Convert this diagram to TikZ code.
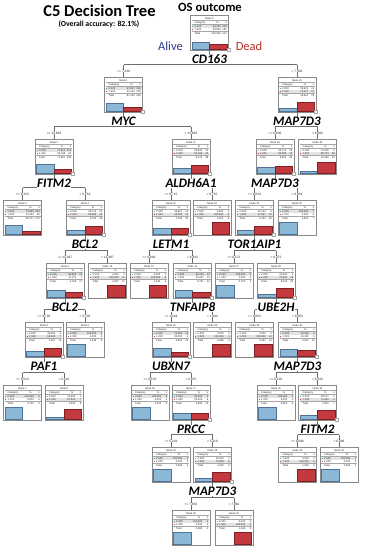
\documentclass[tikz,border=0pt]{standalone}
\usepackage{fontspec}
\setmainfont{Liberation Sans}
\newfontfamily\carl{Carlito}
\usetikzlibrary{calc}
\definecolor{alivec}{HTML}{2E3A8C}
\definecolor{deadc}{HTML}{B5322F}
\definecolor{bluebar}{HTML}{8CB8D8}
\definecolor{blueedge}{HTML}{4F7396}
\definecolor{redbar}{HTML}{C4393D}
\definecolor{rededge}{HTML}{7E2023}
\definecolor{framec}{HTML}{8A8A8A}
\definecolor{connc}{HTML}{6E6E6E}
\tikzset{
  boxst/.style={draw=framec,line width=0.9pt,fill=white,minimum width=38pt,minimum height=35pt,inner sep=0pt},
  tiny/.style={font=\fontsize{2.6}{3}\selectfont,inner sep=0pt,text=black!85},
  rule/.style={draw=gray!70,line width=0.25pt},
  conn/.style={draw=connc,line width=0.7pt},
  gene/.style={font=\carl\bfseries\itshape\fontsize{13}{14}\selectfont,fill=white,inner sep=0.2pt},
  thr/.style={font=\fontsize{3.2}{3.6}\selectfont,fill=white,inner sep=0.3pt,text=black!85},
  iconst/.style={draw=gray!70,line width=0.4pt,fill=white}
}
% #1 name #2 cx #3 top #4 number #5 n0 #6 n1 #7 p0 #8 p1 #9 total pct
\newcommand{\tbox}[9]{%
  \node[boxst] (#1) at (#2,#3+17.5) {};
  \pgfmathsetmacro{\hA}{#7*0.115}%
  \pgfmathsetmacro{\hB}{#8*0.115}%
  \pgfmathsetmacro{\xL}{#2-19}%
  \ifnum#5<#6\relax\def\shy{14.4}\else\def\shy{11.2}\fi
  \fill[gray!22] (\xL+1,#3+\shy-1.5) rectangle (\xL+37,#3+\shy+1.5);
  \node[tiny] at (#2,#3+3.3) {Node #4};
  \draw[rule] (\xL+1,#3+5.4) -- (\xL+37,#3+5.4);
  \node[tiny,anchor=west] at (\xL+4,#3+7.6) {Category};
  \node[tiny] at (\xL+27,#3+7.6) {\%};
  \node[tiny,anchor=east] at (\xL+36.5,#3+7.6) {n};
  \draw[rule] (\xL+1,#3+9.4) -- (\xL+37,#3+9.4);
  \fill[bluebar!80!blue] (\xL+1.6,#3+10.6) rectangle (\xL+2.8,#3+11.8);
  \node[tiny,anchor=west] at (\xL+4,#3+11.2) {0.000};
  \node[tiny,anchor=east] at (\xL+30.5,#3+11.2) {#7};
  \node[tiny,anchor=east] at (\xL+36.5,#3+11.2) {#5};
  \fill[redbar] (\xL+1.6,#3+13.8) rectangle (\xL+2.8,#3+15);
  \node[tiny,anchor=west] at (\xL+4,#3+14.4) {1.000};
  \node[tiny,anchor=east] at (\xL+30.5,#3+14.4) {#8};
  \node[tiny,anchor=east] at (\xL+36.5,#3+14.4) {#6};
  \draw[rule] (\xL+1,#3+16.4) -- (\xL+37,#3+16.4);
  \node[tiny,anchor=west] at (\xL+4,#3+18.4) {Total};
  \node[tiny,anchor=east] at (\xL+30.5,#3+18.4) {#9};
  \node[tiny,anchor=east] at (\xL+36.5,#3+18.4) {\the\numexpr#5+#6\relax};
  \ifnum#5>0\relax
    \filldraw[fill=bluebar,draw=blueedge,line width=0.3pt] (\xL+1.6,#3+33.8-\hA) rectangle (\xL+19,#3+33.8);
  \fi
  \ifnum#6>0\relax
    \filldraw[fill=redbar,draw=rededge,line width=0.3pt] (\xL+19,#3+33.8-\hB) rectangle (\xL+36.4,#3+33.8);
  \fi
}
% #1 parent #2 left #3 right #4 gene #5 threshold
\newcommand{\tsplit}[5]{%
  \path (#2.north) ++(0,-12) coordinate (#2h);
  \path (#3.north) ++(0,-12) coordinate (#3h);
  \draw[conn] (#1.south) -- (#1.south |- #2h);
  \draw[conn] (#2h) -- (#3h);
  \draw[conn] (#2h) -- (#2.north);
  \draw[conn] (#3h) -- (#3.north);
  \node[gene] (#1g) at ($(#1.south)+(0,8.8)$) {#4};
  \node[thr] (#2t) at ($(#2.north)+(0,-5.6)$) {<= #5};
  \node[thr] (#3t) at ($(#3.north)+(0,-5.6)$) {> #5};
  \draw[iconst] ($(#1.south east)+(-1.8,-1.8)$) rectangle ++(3,3);
}
\begin{document}
\begin{tikzpicture}[x=1pt,y=-1pt]
\fill[white] (0,0) rectangle (365,550);
\useasboundingbox (0,0) rectangle (365,550);

\node[font=\carl\bfseries\fontsize{16.5}{18}\selectfont,inner sep=0pt] (title) at (99.5,10.5) {C5 Decision Tree};
\node[font=\carl\bfseries\fontsize{7.7}{9}\selectfont,inner sep=0pt] (acc) at (99,24.5) {(Overall accuracy: 82.1\%)};
\node[font=\carl\bfseries\fontsize{12.6}{14}\selectfont,inner sep=0pt] (os) at (210,7.5) {OS outcome};
\node[font=\carl\fontsize{12.5}{14}\selectfont,text=alivec,inner sep=0pt] (alive) at (170.5,46) {Alive};
\node[font=\carl\fontsize{12.5}{14}\selectfont,text=deadc,inner sep=0pt] (dead) at (249,46) {Dead};

\tbox{n0}{209.5}{15}{0}{249}{165}{60.145}{39.855}{100.000}
\tbox{n1}{123.5}{77}{1}{228}{108}{67.857}{32.143}{81.159}
\tbox{n24}{297}{77}{24}{21}{57}{26.923}{73.077}{18.841}
\tbox{n2}{54}{139}{2}{214}{84}{71.812}{28.188}{71.981}
\tbox{n11}{191}{139}{11}{14}{24}{36.842}{63.158}{9.179}
\tbox{n25}{275}{139}{25}{16}{19}{45.714}{54.286}{8.454}
\tbox{n36}{317.5}{139}{36}{5}{38}{11.628}{88.372}{10.386}
\tbox{n3}{22.5}{200}{3}{204}{66}{75.556}{24.444}{65.217}
\tbox{n4}{85}{200}{4}{10}{18}{35.714}{64.286}{6.763}
\tbox{n12}{171}{200}{12}{14}{16}{46.667}{53.333}{7.246}
\tbox{n23}{212}{200}{23}{0}{8}{0.000}{100.000}{1.932}
\tbox{n26}{254.5}{200}{26}{9}{19}{32.143}{67.857}{6.763}
\tbox{n35}{297}{200}{35}{7}{0}{100.000}{0.000}{1.691}
\tbox{n5}{65}{263}{5}{10}{7}{58.824}{41.176}{4.106}
\tbox{n10}{107.5}{263}{10}{0}{11}{0.000}{100.000}{2.657}
\tbox{n13}{149}{263}{13}{0}{6}{0.000}{100.000}{1.449}
\tbox{n14}{192.5}{263}{14}{14}{10}{58.333}{41.667}{5.797}
\tbox{n27}{234}{263}{27}{3}{0}{100.000}{0.000}{0.725}
\tbox{n28}{276}{263}{28}{6}{19}{24.000}{76.000}{6.039}
\tbox{n6}{44}{322}{6}{4}{7}{36.364}{63.636}{2.657}
\tbox{n9}{85}{322}{9}{6}{0}{100.000}{0.000}{1.449}
\tbox{n15}{171}{322}{15}{14}{6}{70.000}{30.000}{4.831}
\tbox{n22}{212.5}{322}{22}{0}{4}{0.000}{100.000}{0.966}
\tbox{n29}{254.5}{322}{29}{0}{14}{0.000}{100.000}{3.382}
\tbox{n30}{297.5}{322}{30}{6}{5}{54.545}{45.455}{2.657}
\tbox{n7}{22.5}{385}{7}{3}{0}{100.000}{0.000}{0.725}
\tbox{n8}{64}{385}{8}{1}{7}{12.500}{87.500}{1.932}
\tbox{n16}{150}{385}{16}{8}{0}{100.000}{0.000}{1.932}
\tbox{n17}{191}{385}{17}{6}{6}{50.000}{50.000}{2.899}
\tbox{n31}{276}{385}{31}{4}{0}{100.000}{0.000}{0.966}
\tbox{n32}{317.5}{385}{32}{2}{5}{28.571}{71.429}{1.691}
\tbox{n18}{171}{447}{18}{4}{0}{100.000}{0.000}{0.966}
\tbox{n19}{212.5}{447}{19}{2}{6}{25.000}{75.000}{1.932}
\tbox{n33}{297.5}{447}{33}{0}{5}{0.000}{100.000}{1.208}
\tbox{n34}{339}{447}{34}{2}{0}{100.000}{0.000}{0.483}
\tbox{n20}{191}{510}{20}{2}{0}{100.000}{0.000}{0.483}
\tbox{n21}{234}{510}{21}{0}{6}{0.000}{100.000}{1.449}

\tsplit{n0}{n1}{n24}{CD163}{7.436}
\tsplit{n1}{n2}{n11}{MYC}{12.829}
\tsplit{n24}{n25}{n36}{MAP7D3}{6.006}
\tsplit{n2}{n3}{n4}{FITM2}{6.153}
\tsplit{n11}{n12}{n23}{ALDH6A1}{8.715}
\tsplit{n25}{n26}{n35}{MAP7D3}{6.033}
\tsplit{n4}{n5}{n10}{BCL2}{11.487}
\tsplit{n12}{n13}{n14}{LETM1}{6.843}
\tsplit{n26}{n27}{n28}{TOR1AIP1}{8.372}
\tsplit{n5}{n6}{n9}{BCL2}{9.728}
\tsplit{n14}{n15}{n22}{TNFAIP8}{1.644}
\tsplit{n28}{n29}{n30}{UBE2H}{6.003}
\tsplit{n6}{n7}{n8}{PAF1}{6.523}
\tsplit{n15}{n16}{n17}{UBXN7}{6.870}
\tsplit{n30}{n31}{n32}{MAP7D3}{6.220}
\tsplit{n17}{n18}{n19}{PRCC}{5.119}
\tsplit{n32}{n33}{n34}{FITM2}{6.096}
\tsplit{n19}{n20}{n21}{MAP7D3}{7.881}
\end{tikzpicture}
\end{document}
